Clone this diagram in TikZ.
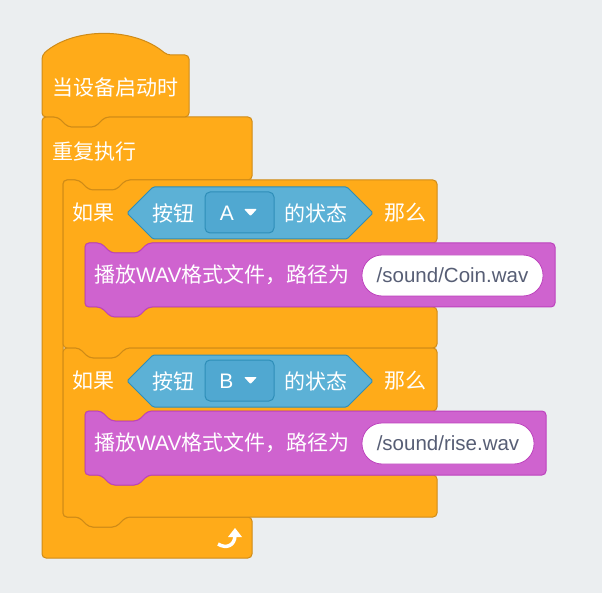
\documentclass[tikz,border=0pt]{standalone}
\usepackage{fontspec}
\setmainfont{Liberation Sans}
\newfontfamily\cjk{Noto Sans CJK SC}
\usetikzlibrary{arrows.meta}
\definecolor{bgcol}{RGB}{235,238,240}
\definecolor{ctrl}{RGB}{255,171,25}
\definecolor{ctrlline}{RGB}{207,139,23}
\definecolor{snd}{RGB}{207,99,207}
\definecolor{sndline}{RGB}{189,66,189}
\definecolor{sens}{RGB}{92,177,214}
\definecolor{sensline}{RGB}{46,142,184}
\definecolor{menucol}{RGB}{80,168,209}
\definecolor{txtgray}{RGB}{87,94,117}
\begin{document}
\begin{tikzpicture}[x=1pt,y=-1pt]
\tikzset{ctrlblock/.style={fill=ctrl, draw=ctrlline, line width=1pt, rounded corners=4pt},
sndblock/.style={fill=snd, draw=sndline, line width=1pt, rounded corners=4pt},
boolblock/.style={fill=sens, draw=sensline, line width=1pt, rounded corners=1.5pt},
menubox/.style={fill=menucol, draw=sensline, line width=1pt, rounded corners=5pt, minimum width=69pt, minimum height=41pt},
pill/.style={fill=white, draw=sndline, line width=0.8pt, rounded corners=20pt, minimum height=41pt, text=txtgray, font=\fontsize{20.5}{24}\selectfont},
blocktext/.style={text=white, anchor=west, inner sep=0pt, font=\fontsize{21}{25}\selectfont\cjk},
keytext/.style={text=white, inner sep=0pt, font=\fontsize{21}{25}\selectfont}}
\fill[bgcol] (0,0) rectangle (602,593);
\useasboundingbox (0,0) rectangle (602,593);
% forever loop
\draw[ctrlblock] (42,117) -- (58,117) -- (68,127) -- (95,127) -- (105,117) -- (252,117) -- (252,180) -- (126,180) -- (116,190) -- (89,190) -- (79,180) -- (63,180) -- (63,517) -- (79,517) -- (89,527) -- (116,527) -- (126,517) -- (252,517) -- (252,558) -- (42,558) -- cycle;
% hat
\draw[ctrlblock] (42,55) .. controls (74,27) and (134,27) .. (167,55) -- (189,55) -- (189,117) -- (105,117) -- (95,127) -- (68,127) -- (58,117) -- (42,117) -- cycle;
% if blocks
\draw[ctrlblock] (63,180) -- (79,180) -- (89,190) -- (116,190) -- (126,180) -- (437,180) -- (437,243) -- (148,243) -- (138,253) -- (111,253) -- (101,243) -- (85,243) -- (85,307) -- (101,307) -- (111,317) -- (138,317) -- (148,307) -- (437,307) -- (437,348) -- (126,348) -- (116,358) -- (89,358) -- (79,348) -- (63,348) -- cycle;
\draw[ctrlblock] (63,348) -- (79,348) -- (89,358) -- (116,358) -- (126,348) -- (437,348) -- (437,411) -- (148,411) -- (138,421) -- (111,421) -- (101,411) -- (85,411) -- (85,475) -- (101,475) -- (111,485) -- (138,485) -- (148,475) -- (437,475) -- (437,517) -- (126,517) -- (116,527) -- (89,527) -- (79,517) -- (63,517) -- cycle;
% play blocks
\draw[sndblock] (85,243) -- (101,243) -- (111,253) -- (138,253) -- (148,243) -- (555,243) -- (555,307) -- (148,307) -- (138,317) -- (111,317) -- (101,307) -- (85,307) -- cycle;
\draw[sndblock] (85,411) -- (101,411) -- (111,421) -- (138,421) -- (148,411) -- (546,411) -- (546,475) -- (148,475) -- (138,485) -- (111,485) -- (101,475) -- (85,475) -- cycle;
% conditions
\draw[boolblock] (127,213) -- (153,187) -- (347,187) -- (373,213) -- (347,239) -- (153,239) -- cycle;
\draw[boolblock] (127,381) -- (153,355) -- (347,355) -- (373,381) -- (347,407) -- (153,407) -- cycle;
\node[menubox] (menuA) at (239.5,212.5) {};
\node[menubox] (menuB) at (239.5,380.5) {};
\node[keytext] (keyA) at (227,213) {A};
\node[keytext] (keyB) at (226.5,381) {B};
\fill[white, rounded corners=1pt] (244,209) -- (257,209) -- (250.5,216) -- cycle;
\fill[white, rounded corners=1pt] (244,377) -- (257,377) -- (250.5,384) -- cycle;
% texts
\node[blocktext] (start) at (52,88) {当设备启动时};
\node[blocktext] (loop) at (52,152) {重复执行};
\node[blocktext] (ifA) at (72,213) {如果};
\node[blocktext] (btnA) at (152,213) {按钮};
\node[blocktext] (stateA) at (284,213) {的状态};
\node[blocktext] (thenA) at (384,213) {那么};
\node[blocktext] (playA) at (94,275) {播放{\rmfamily WAV}格式文件，路径为};
\node[pill, minimum width=181pt] (fileA) at (452.5,275.5) {/sound/Coin.wav};
\node[blocktext] (ifB) at (72,381) {如果};
\node[blocktext] (btnB) at (152,381) {按钮};
\node[blocktext] (stateB) at (284,381) {的状态};
\node[blocktext] (thenB) at (384,381) {那么};
\node[blocktext] (playB) at (94,443) {播放{\rmfamily WAV}格式文件，路径为};
\node[pill, minimum width=172pt] (fileB) at (448,443.5) {/sound/rise.wav};
% loop arrow
\draw[white, line width=3.5pt] (218,544) .. controls (226,549) and (235,546) .. (235,535);
\fill[white] (228,537) -- (235,528) -- (242,537) -- cycle;
\end{tikzpicture}
\end{document}
